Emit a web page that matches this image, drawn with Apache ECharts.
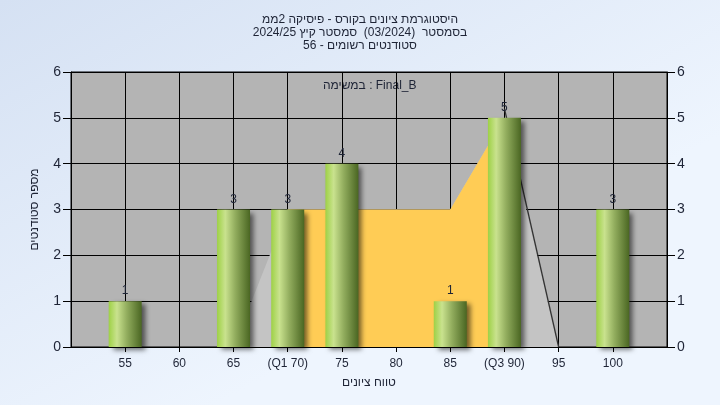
<!DOCTYPE html>
<html>
<head>
<meta charset="utf-8">
<script src="https://cdn.jsdelivr.net/npm/echarts@6/dist/echarts.min.js"></script>
<style>
html,body{margin:0;padding:0;}
#c{width:720px;height:405px;}
</style>
</head>
<body>
<div id="c"></div>
<script>
// ---- data ----
const titleLines = [
  'היסטוגרמת ציונים בקורס - פיסיקה 2ממ',
  'בסמסטר  (03/2024)  סמסטר קיץ 2024/25',
  'סטודנטים רשומים - 56'
];
const legendText = 'במשימה : Final_B';
const xAxisName = 'טווח ציונים';
const yAxisName = 'מספר סטודנטים';

const scoreBins = [55, 65, 70, 75, 85, 90, 100];
const studentCounts = [1, 3, 3, 4, 1, 5, 3];

const tickValues = [55, 60, 65, 70, 75, 80, 85, 90, 95, 100];
const tickLabels = ['55', '60', '65', '(Q1 70)', '75', '80', '85', '(Q3 90)', '95', '100'];

const iqrX = [70, 85, 90];
const iqrY = [3, 3, 5];
const rangeX = [65, 70, 85, 90, 95];
const rangeY = [0, 3, 3, 5, 0];
const edgeX = [90, 95];
const edgeY = [5.2, 0];

// ---- chart ----
const RLE = '\u202B', PDF = '\u202C';
const rtl = s => RLE + s + PDF;
const zip = (a, b) => a.map((v, i) => [v, b[i]]);

const chart = echarts.init(document.getElementById('c'), null, {renderer: 'canvas'});
const font = 'Liberation Sans, Arial, sans-serif';
const txt = '#1e2436';

const yAxisCommon = {
  type: 'value', min: 0, max: 6, interval: 1,
  axisLine: {show: true, lineStyle: {color: '#000', width: 1}},
  axisTick: {show: true, length: 8, lineStyle: {color: '#000'}},
  splitLine: {show: true, lineStyle: {color: '#000', width: 1}},
  axisLabel: {color: txt, fontSize: 14, fontFamily: font, margin: 10}
};

chart.setOption({
  backgroundColor: new echarts.graphic.LinearGradient(0, 0, 0.3, 1, [
    {offset: 0, color: '#D5E1F3'},
    {offset: 1, color: '#EEF5FE'}
  ]),
  animation: false,
  title: {
    text: titleLines.map(rtl).join('\n'),
    left: 'center', top: 8,
    textStyle: {fontSize: 12, fontWeight: 'normal', color: txt, fontFamily: font, lineHeight: 13}
  },
  graphic: [{
    type: 'text', left: 323, top: 80,
    style: {text: legendText, fontSize: 12, fill: txt, fontFamily: font}
  }],
  grid: {
    left: 71, right: 53, top: 72, bottom: 58,
    show: true, backgroundColor: '#B4B4B4', borderColor: '#000', borderWidth: 1
  },
  xAxis: {
    type: 'value', min: 50, max: 105, interval: 5,
    name: rtl(xAxisName), nameLocation: 'middle', nameGap: 30,
    nameTextStyle: {color: txt, fontSize: 12, fontFamily: font},
    axisLine: {show: true, onZero: false, lineStyle: {color: '#000'}},
    axisTick: {show: true, length: 5, lineStyle: {color: '#000'}},
    splitLine: {show: true, lineStyle: {color: '#000', width: 1}},
    axisLabel: {
      color: txt, fontSize: 12, fontFamily: font, margin: 11,
      showMinLabel: false, showMaxLabel: false,
      formatter: v => {
        const i = tickValues.indexOf(v);
        return i >= 0 ? tickLabels[i] : '';
      }
    }
  },
  yAxis: [
    Object.assign({}, yAxisCommon, {
      position: 'left',
      name: rtl(yAxisName), nameLocation: 'middle', nameGap: 30, nameRotate: 90,
      nameTextStyle: {color: txt, fontSize: 12, fontFamily: font}
    }),
    Object.assign({}, yAxisCommon, {position: 'right', splitLine: {show: false}})
  ],
  series: [
    {
      type: 'line', data: zip(rangeX, rangeY), symbol: 'none', z: 1,
      lineStyle: {width: 0}, areaStyle: {color: '#C4C4C4', opacity: 1}
    },
    {
      type: 'line', data: zip(iqrX, iqrY), symbol: 'none', z: 2,
      lineStyle: {width: 0}, areaStyle: {color: '#FFCC55', opacity: 1}
    },
    {
      type: 'line', data: zip(edgeX, edgeY), symbol: 'none', z: 3,
      lineStyle: {width: 1.3, color: '#333'}
    },
    {
      type: 'bar', data: zip(scoreBins, studentCounts), barWidth: 33, z: 5,
      itemStyle: {
        color: new echarts.graphic.LinearGradient(0, 0, 1, 0, [
          {offset: 0, color: '#9ED146'},
          {offset: 0.25, color: '#C9E28E'},
          {offset: 0.55, color: '#92AD5E'},
          {offset: 1, color: '#4A6622'}
        ]),
        shadowColor: 'rgba(0,0,0,0.55)', shadowBlur: 5, shadowOffsetX: 4, shadowOffsetY: 3
      },
      label: {show: true, position: 'top', distance: 4, color: txt, fontSize: 12, fontFamily: font}
    }
  ]
});
</script>
</body>
</html>
